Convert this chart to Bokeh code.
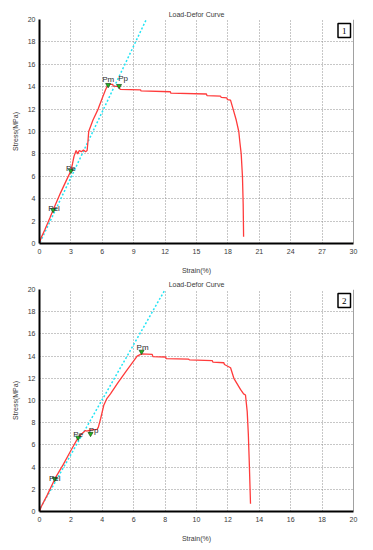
from bokeh.plotting import figure
from bokeh.layouts import column
from bokeh.models import Label, Span, ColumnDataSource, FixedTicker, Range1d
from bokeh.core.properties import value
from bokeh.embed import file_html
from bokeh.resources import INLINE

# ---------------- data ----------------
title_text = "Load-Defor Curve"
x_label = "Strain(%)"
y_label = "Stress(MPa)"

# Panel 1
p1_xticks = [0, 3, 6, 9, 12, 15, 18, 21, 24, 27, 30]
p1_xmax = 30
p1_strain = [0, 0.15, 0.5, 1.0, 1.3, 2.0, 2.5, 3.0, 3.15, 3.3, 3.5, 3.65, 3.8, 4.0,
             4.2, 4.4, 4.55, 4.62, 4.7, 5.1, 5.6, 6.0, 6.3, 6.5, 6.6, 7.0, 7.05,
             7.6, 7.7, 9.65, 9.7, 12.5, 12.55, 15.95, 16.0, 17.3, 17.35, 17.9, 17.95,
             18.25, 18.5, 18.8, 19.04, 19.15, 19.27, 19.39, 19.46, 19.5]
p1_stress = [0, 0.5, 1.2, 2.3, 3.0, 4.5, 5.5, 6.5, 7.1, 7.8, 8.3, 8.0, 8.3, 8.2,
             8.35, 8.2, 8.3, 9.0, 10.0, 11.0, 12.0, 13.0, 13.7, 14.1, 14.2, 14.2, 14.05,
             14.0, 13.77, 13.72, 13.62, 13.55, 13.42, 13.35, 13.2, 13.15, 13.05, 13.0, 12.85,
             12.8, 12.0, 11.0, 10.0, 9.0, 8.0, 6.0, 3.5, 0.6]
p1_fit_x = [0.05, 10.2]
p1_fit_y = [0.1, 20]
p1_pt_name = ["Pel", "Pe", "Pm", "Pp"]
p1_pt_x = [1.3, 3.0, 6.56, 7.6]
p1_pt_y = [3.0, 6.5, 14.16, 14.07]
p1_badge = "1"

# Panel 2
p2_xticks = [0, 2, 4, 6, 8, 10, 12, 14, 16, 18, 20]
p2_xmax = 20
p2_strain = [0, 0.1, 0.5, 1.0, 1.5, 2.0, 2.46, 2.7, 2.93, 3.0, 3.3, 3.67, 3.75, 3.9,
             4.1, 4.3, 4.52, 5.0, 5.5, 6.0, 6.22, 6.5, 7.18, 7.22, 8.03, 8.07, 9.5,
             9.55, 11.0, 11.05, 11.74, 11.78, 12.17, 12.38, 12.8, 13.0, 13.12, 13.23,
             13.3, 13.36, 13.44]
p2_stress = [0, 0.4, 1.5, 3.0, 4.2, 5.5, 6.66, 7.0, 7.3, 7.25, 7.35, 7.4, 7.6, 8.4,
             9.6, 10.2, 10.6, 11.6, 12.6, 13.56, 14.0, 14.2, 14.16, 13.95, 13.92, 13.78, 13.72,
             13.66, 13.6, 13.45, 13.4, 13.24, 12.95, 12.0, 11.0, 10.6, 10.5, 9.0,
             7.0, 4.5, 0.7]
p2_fit_x = [0.05, 8.0]
p2_fit_y = [0.3, 20]
p2_pt_name = ["Pel", "Pe", "Pp", "Pm"]
p2_pt_x = [0.97, 2.46, 3.25, 6.5]
p2_pt_y = [2.95, 6.66, 7.0, 14.4]
p2_badge = "2"

y_ticks = [0, 2, 4, 6, 8, 10, 12, 14, 16, 18, 20]

# label offsets (styling, screen px)
p1_lbl_dx = [1, 0, 0, 4]
p1_lbl_dy = [-1, -2, -5, -7]
p2_lbl_dx = [0, 0, 3, 1]
p2_lbl_dy = [0, -3, -3, -4]

FONT = "Liberation Sans"
TXT = "#3a3a3a"


def make_panel(xmax, xticks, strain, stress, fit_x, fit_y, names, px, py, dx, dy,
               badge, height, top, bottom):
    p = figure(width=365, height=height, output_backend="svg", toolbar_location=None,
               x_range=Range1d(0, xmax), y_range=Range1d(0, 20),
               min_border_left=39, min_border_right=12,
               min_border_top=top, min_border_bottom=bottom,
               title=title_text)
    p.title.align = "center"
    p.title.text_font = FONT
    p.title.text_font_size = "7px"
    p.title.text_font_style = "normal"
    p.title.text_color = TXT
    p.title.standoff = 3
    p.outline_line_color = None
    p.background_fill_color = "white"
    for ax in (p.xaxis[0], p.yaxis[0]):
        ax.axis_line_width = 2
        ax.axis_line_color = "black"
        ax.major_tick_line_color = None
        ax.minor_tick_line_color = None
        ax.major_tick_out = 0
        ax.major_tick_in = 0
        ax.major_label_text_font = FONT
        ax.major_label_text_font_size = "7px"
        ax.major_label_text_color = TXT
        ax.axis_label_text_font = FONT
        ax.axis_label_text_font_size = "7px"
        ax.axis_label_text_font_style = "normal"
        ax.axis_label_text_color = TXT
        ax.major_label_standoff = 4
    p.xaxis.ticker = FixedTicker(ticks=xticks)
    p.yaxis.ticker = FixedTicker(ticks=y_ticks)
    p.xaxis.axis_label = x_label
    p.yaxis.axis_label = y_label
    p.xaxis.major_label_standoff = 5
    p.xaxis.axis_label_standoff = 10
    p.yaxis.axis_label_standoff = 6
    p.grid.grid_line_color = "#8f8f8f"
    p.grid.grid_line_dash = "1 2"
    p.grid.grid_line_width = 1

    p.add_layout(Span(location=xmax, dimension="height", line_color="#444444",
                      line_width=1))

    p.line(fit_x, fit_y, line_color="#22e4f4", line_width=1.5, line_dash="2 2")
    p.line(strain, stress, line_color="#ff3b3b", line_width=1.3)

    src = ColumnDataSource(dict(x=px, y=py, name=names, dx=dx, dy=dy))
    p.scatter("x", "y", source=src, marker="inverted_triangle", size=5,
              fill_color="#1fb51f", line_color="#1a4d1a", line_width=0.7)
    p.text("x", "y", text="name", source=src, x_offset="dx", y_offset="dy",
           text_align="center", text_baseline="middle", text_font=value(FONT),
           text_font_size="8px", text_color="#2a2a2a")

    p.add_layout(Label(x=xmax, y=20, x_offset=-3, y_offset=-4, text=badge,
                       text_align="right", text_baseline="top",
                       text_font="Liberation Serif", text_font_size="9px",
                       text_color="black", border_line_color="black",
                       border_line_width=1.5, background_fill_color="white",
                       padding=4))
    return p


p1 = make_panel(p1_xmax, p1_xticks, p1_strain, p1_stress, p1_fit_x, p1_fit_y,
                p1_pt_name, p1_pt_x, p1_pt_y, p1_lbl_dx, p1_lbl_dy, p1_badge,
                277, 19, 34)
p2 = make_panel(p2_xmax, p2_xticks, p2_strain, p2_stress, p2_fit_x, p2_fit_y,
                p2_pt_name, p2_pt_x, p2_pt_y, p2_lbl_dx, p2_lbl_dy, p2_badge,
                267, 11, 32)

layout = column(p1, p2, spacing=0)
open("out.html", "w").write(file_html(layout, INLINE))
